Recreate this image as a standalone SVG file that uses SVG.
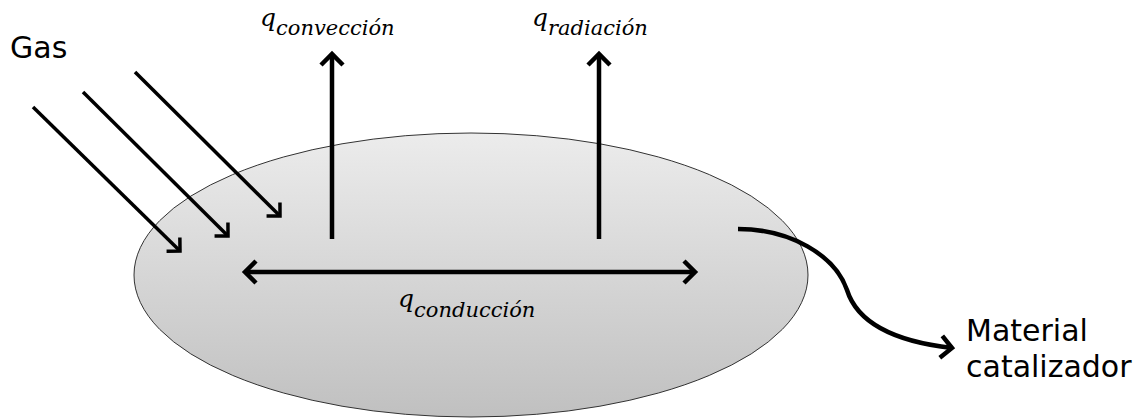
<svg xmlns="http://www.w3.org/2000/svg" width="1145" height="419" viewBox="0 0 1145 419">
<style>
.ln{stroke:#000;stroke-width:4.5;fill:none;stroke-linecap:butt}
.thin{stroke:#000;stroke-width:3.5;fill:none;stroke-linecap:butt}
.lbl{font-family:"DejaVu Sans",Verdana,sans-serif;font-size:30px;fill:#000}
.q{font-family:"DejaVu Serif","Liberation Serif",serif;font-style:italic;fill:#000}
</style>
<defs>
<linearGradient id="g" x1="0" y1="0" x2="0" y2="1">
<stop offset="0" stop-color="#ececec"/>
<stop offset="1" stop-color="#c0c0c0"/>
</linearGradient>
<marker id="ah" viewBox="-14 -14 18 28" refX="0" refY="0" markerWidth="18" markerHeight="28" markerUnits="userSpaceOnUse" orient="auto-start-reverse" overflow="visible">
<path d="M-9.5,-9.5 L0,0 L-9.5,9.5" fill="none" stroke="#000" stroke-width="3.5"/>
</marker>
<marker id="ahb" viewBox="-16 -16 20 32" refX="0" refY="0" markerWidth="20" markerHeight="32" markerUnits="userSpaceOnUse" orient="auto-start-reverse" overflow="visible">
<path d="M-11,-11 L0,0 L-11,11" fill="none" stroke="#000" stroke-width="4.5"/>
</marker>
</defs>
<g id="particle">
<ellipse cx="471" cy="275" rx="337" ry="142" fill="url(#g)" stroke="#333" stroke-width="1"/>
</g>
<g id="gas-label"><text class="lbl" x="10" y="58">Gas</text></g>
<g id="conv-label"><text class="q" x="260" y="26" font-size="25">q<tspan font-size="21" dy="9">convección</tspan></text></g>
<g id="rad-label"><text class="q" x="532" y="26" font-size="25">q<tspan font-size="21" dy="9">radiación</tspan></text></g>
<g id="cond-label"><text class="q" x="398" y="307" font-size="25">q<tspan font-size="21" dy="10">conducción</tspan></text></g>
<g id="material-label"><text class="lbl" x="966" y="341">Material</text><text class="lbl" x="966" y="377">catalizador</text></g>
<g id="connectors">
<line class="thin" x1="33" y1="107" x2="180" y2="251" marker-end="url(#ah)"/>
<line class="thin" x1="83" y1="92" x2="228" y2="236" marker-end="url(#ah)"/>
<line class="thin" x1="135" y1="72" x2="280" y2="216" marker-end="url(#ah)"/>
<line class="ln" x1="332" y1="239" x2="332" y2="54" marker-end="url(#ahb)"/>
<line class="ln" x1="599" y1="239" x2="599" y2="54" marker-end="url(#ahb)"/>
<line class="ln" x1="245" y1="272" x2="695" y2="272" marker-start="url(#ahb)" marker-end="url(#ahb)"/>
<path class="ln" d="M738,229 C790,229 835,255 847,290 C858,325 900,342 952,348" marker-end="url(#ahb)"/>
</g>
</svg>
